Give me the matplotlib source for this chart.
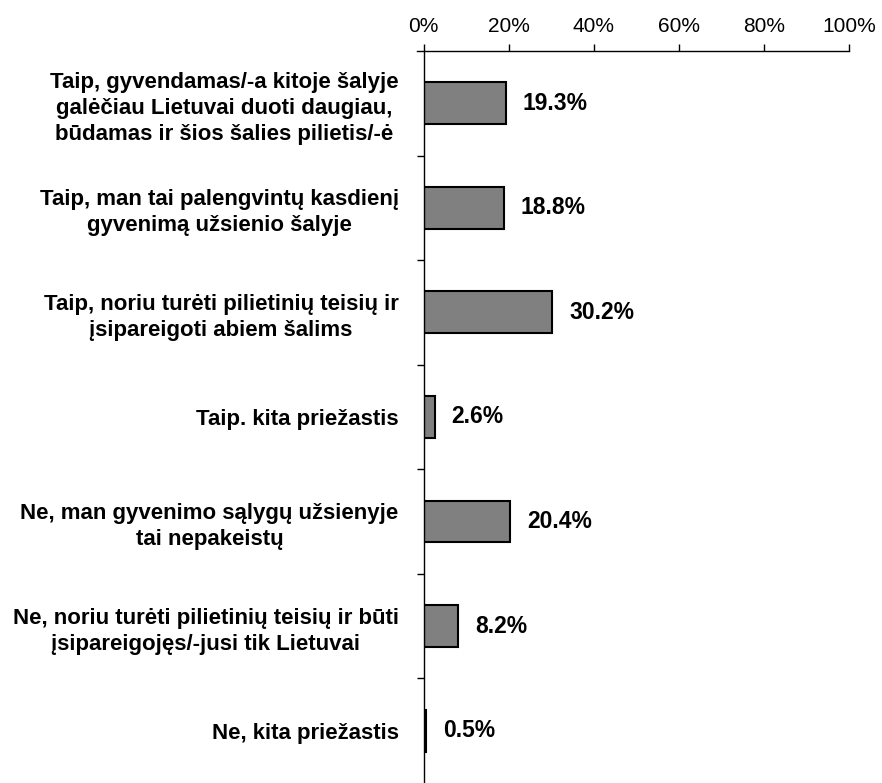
import matplotlib
matplotlib.use("Agg")
import matplotlib.pyplot as plt
from matplotlib.ticker import FixedLocator

categories = [
    "Taip, gyvendamas/-a kitoje šalyje\ngalėčiau Lietuvai duoti daugiau,\nbūdamas ir šios šalies pilietis/-ė",
    "Taip, man tai palengvintų kasdienį\ngyvenimą užsienio šalyje",
    "Taip, noriu turėti pilietinių teisių ir\nįsipareigoti abiem šalims",
    "Taip. kita priežastis",
    "Ne, man gyvenimo sąlygų užsienyje\ntai nepakeistų",
    "Ne, noriu turėti pilietinių teisių ir būti\nįsipareigojęs/-jusi tik Lietuvai",
    "Ne, kita priežastis",
]
values = [19.3, 18.8, 30.2, 2.6, 20.4, 8.2, 0.5]
xticks = [0, 20, 40, 60, 80, 100]
xticklabels = ["0%", "20%", "40%", "60%", "80%", "100%"]

plt.rcParams['font.family'] = ['Liberation Sans', 'DejaVu Sans']

fig = plt.figure(figsize=(8.82, 7.83), dpi=100)
ax = fig.add_axes([0.4802, 0.0, 0.9626 - 0.4802, 0.9349])

ypos = list(range(len(categories)))
ax.barh(ypos, values, height=0.4, color="#808080", edgecolor="black", linewidth=1.5)

ax.set_xlim(0, 100)
ax.set_ylim(len(categories) - 0.5, -0.5)

ax.xaxis.tick_top()
ax.set_xticks(xticks)
ax.set_xticklabels(xticklabels, fontsize=15)
ax.tick_params(axis='x', direction='out', length=5, width=1, pad=6)

ax.set_yticks(ypos)
ax.set_yticklabels(categories, fontsize=16, fontweight='bold', linespacing=1.32,
                   multialignment='center')
ax.tick_params(axis='y', which='major', length=0, pad=18)
ax.yaxis.set_minor_locator(FixedLocator([i + 0.5 for i in range(len(categories) - 1)]))
ax.tick_params(axis='y', which='minor', length=5, width=1, direction='out')

for s in ['right', 'bottom']:
    ax.spines[s].set_visible(False)
ax.spines['top'].set_bounds(-1.5, 100)
for s in ['top', 'left']:
    ax.spines[s].set_linewidth(1)

for y, v in zip(ypos, values):
    ax.annotate(f"{v:.1f}%", xy=(v, y), xytext=(17, 0), textcoords='offset pixels',
                va='center', ha='left', fontsize=16.5, fontweight='bold')

fig.savefig("out.png", dpi=100)
